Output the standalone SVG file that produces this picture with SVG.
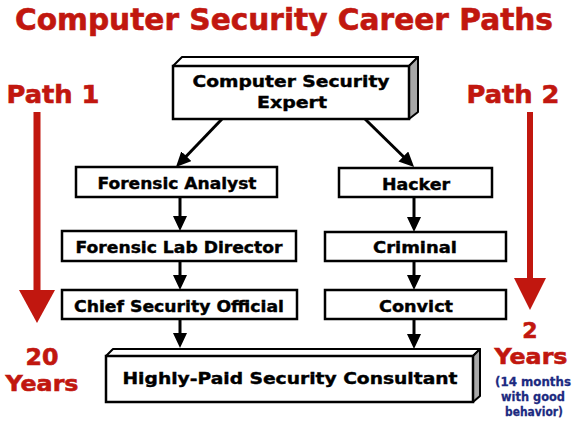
<svg xmlns="http://www.w3.org/2000/svg" width="582" height="436" viewBox="0 0 582 436">
<defs>
<style>
text{font-family:"DejaVu Sans","Liberation Sans",sans-serif;font-weight:bold;}
.red{fill:#c1170f;stroke:#c1170f;stroke-width:0.6;}
.blue{fill:#1c2a80;stroke:#1c2a80;stroke-width:0.3;font-size:13px;}
.box{fill:#fff;stroke:#000;stroke-width:2.5;}
.side{fill:#a8a8a8;stroke:#000;stroke-width:2;stroke-linejoin:round;}
.top{fill:#fff;stroke:#000;stroke-width:2;stroke-linejoin:round;}
.lbl{font-size:16px;fill:#000;stroke:#000;stroke-width:0.4;}
.conn{stroke:#000;stroke-width:3;fill:none;marker-end:url(#ah);}
</style>
<marker id="ah" markerUnits="userSpaceOnUse" markerWidth="16" markerHeight="14" refX="5" refY="7" orient="auto" viewBox="0 0 16 14">
<path d="M0,0 L15,7 L0,14 z" fill="#000"/>
</marker>
</defs>
<rect width="582" height="436" fill="#fff"/>

<text class="red" x="284" y="30" text-anchor="middle" font-size="30" textLength="538" lengthAdjust="spacingAndGlyphs">Computer Security Career Paths</text>

<g id="path1">
<text class="red" x="53" y="103" text-anchor="middle" font-size="25" textLength="93" lengthAdjust="spacingAndGlyphs">Path 1</text>
<line x1="37" y1="112" x2="37" y2="292" stroke="#c1170f" stroke-width="7"/>
<polygon points="19,290 55,290 37,323" fill="#c1170f"/>
<text class="red" x="42" y="365" text-anchor="middle" font-size="23" textLength="33" lengthAdjust="spacingAndGlyphs">20</text>
<text class="red" x="42" y="391" text-anchor="middle" font-size="22" textLength="73" lengthAdjust="spacingAndGlyphs">Years</text>
</g>

<g id="path2">
<text class="red" x="513" y="103" text-anchor="middle" font-size="25" textLength="93" lengthAdjust="spacingAndGlyphs">Path 2</text>
<line x1="530" y1="112" x2="530" y2="280" stroke="#c1170f" stroke-width="6"/>
<polygon points="514,278 546,278 530,310" fill="#c1170f"/>
<text class="red" x="530" y="338" text-anchor="middle" font-size="22">2</text>
<text class="red" x="531" y="364" text-anchor="middle" font-size="22" textLength="73" lengthAdjust="spacingAndGlyphs">Years</text>
<text class="blue" x="533" y="386" text-anchor="middle" textLength="76" lengthAdjust="spacingAndGlyphs">(14 months</text>
<text class="blue" x="533" y="401" text-anchor="middle" textLength="64" lengthAdjust="spacingAndGlyphs">with good</text>
<text class="blue" x="534" y="416" text-anchor="middle" textLength="58" lengthAdjust="spacingAndGlyphs">behavior)</text>
</g>

<g id="expert">
<polygon class="top" points="173,66 182,57 418,57 409,66"/>
<polygon class="side" points="409,66 418,57 418,112 409,119"/>
<rect class="box" x="173" y="66" width="236" height="53"/>
<text class="lbl" x="291" y="87" text-anchor="middle" font-size="18" textLength="197" lengthAdjust="spacingAndGlyphs">Computer Security</text>
<text class="lbl" x="292" y="108" text-anchor="middle" font-size="18" textLength="70" lengthAdjust="spacingAndGlyphs">Expert</text>
</g>

<g id="forensic-analyst">
<rect class="box" x="76" y="167" width="201" height="30"/>
<text class="lbl" x="177" y="189" text-anchor="middle" textLength="159" lengthAdjust="spacingAndGlyphs">Forensic Analyst</text>
</g>
<g id="forensic-lab-director">
<rect class="box" x="62" y="231" width="234" height="30"/>
<text class="lbl" x="179" y="253" text-anchor="middle" textLength="207" lengthAdjust="spacingAndGlyphs">Forensic Lab Director</text>
</g>
<g id="chief-security-official">
<rect class="box" x="62" y="290" width="235" height="29"/>
<text class="lbl" x="179" y="312" text-anchor="middle" textLength="210" lengthAdjust="spacingAndGlyphs">Chief Security Official</text>
</g>

<g id="hacker">
<rect class="box" x="339" y="168" width="153" height="29"/>
<text class="lbl" x="416" y="190" text-anchor="middle" textLength="68" lengthAdjust="spacingAndGlyphs">Hacker</text>
</g>
<g id="criminal">
<rect class="box" x="325" y="232" width="181" height="29"/>
<text class="lbl" x="415" y="253" text-anchor="middle" textLength="84" lengthAdjust="spacingAndGlyphs">Criminal</text>
</g>
<g id="convict">
<rect class="box" x="325" y="290" width="181" height="29"/>
<text class="lbl" x="416" y="312" text-anchor="middle" textLength="74" lengthAdjust="spacingAndGlyphs">Convict</text>
</g>

<g id="consultant">
<polygon class="top" points="106,356 113,349 480,349 473,356"/>
<polygon class="side" points="473,356 480,349 480,396 473,402"/>
<rect class="box" x="106" y="356" width="367" height="46"/>
<text class="lbl" x="290" y="384" text-anchor="middle" font-size="19" textLength="335" lengthAdjust="spacingAndGlyphs">Highly-Paid Security Consultant</text>
</g>

<g id="connectors">
<line class="conn" x1="222" y1="119" x2="182.9" y2="159.8"/>
<line class="conn" x1="365" y1="119" x2="406.9" y2="160"/>
<line class="conn" x1="180" y1="197" x2="180" y2="221"/>
<line class="conn" x1="180" y1="261" x2="180" y2="280"/>
<line class="conn" x1="180" y1="319" x2="180" y2="338"/>
<line class="conn" x1="414" y1="197" x2="414" y2="222"/>
<line class="conn" x1="414" y1="261" x2="414" y2="280"/>
<line class="conn" x1="414" y1="319" x2="414" y2="339"/>
</g>
</svg>
